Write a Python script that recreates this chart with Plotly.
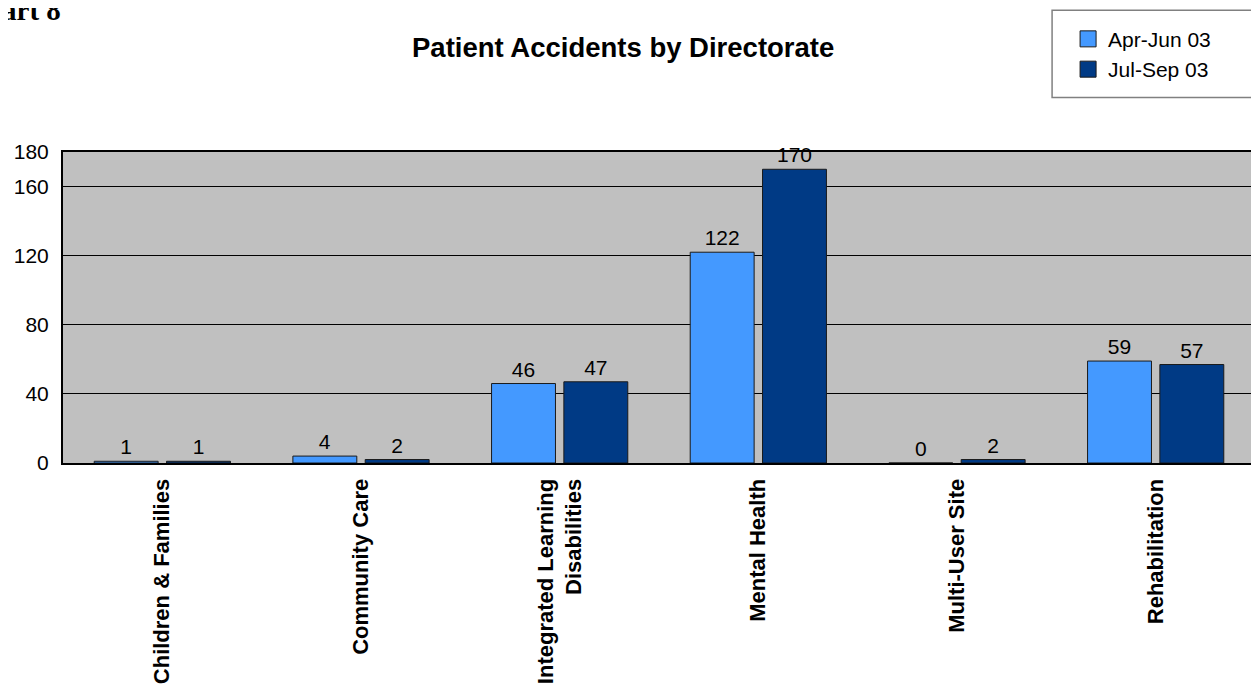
import plotly.graph_objects as go

categories = ["Children & Families", "Community Care", "Integrated Learning<br>Disabilities",
              "Mental Health", "Multi-User Site", "Rehabilitation"]
apr_jun = [1, 4, 46, 122, 0, 59]
jul_sep = [1, 2, 47, 170, 2, 57]
series_names = ["Apr-Jun 03", "Jul-Sep 03"]
series_colors = ["#4499ff", "#003a85"]
tick_vals = [0, 40, 80, 120, 160, 180]

OFF = 8  # default page body margin
W, H = 1259 - OFF, 691 - OFF
# plot area in page pixels
PX0, PX1, PY0, PY1 = 62.5, 1255, 151.5, 463
L = PX0 - OFF
T = PY0 - OFF
pw = PX1 - PX0
ph = PY1 - PY0
R = W - L - pw
B = H - T - ph

def px(x):
    return (x - PX0) / pw

def py(y):
    return (PY1 - y) / ph

fig = go.Figure()
for name, vals, col in zip(series_names, [apr_jun, jul_sep], series_colors):
    fig.add_trace(go.Bar(
        x=categories, y=vals, name=name, showlegend=False,
        marker=dict(color=col, line=dict(color="#1a1a1a", width=1)),
        text=[str(v) for v in vals], textposition="outside",
        textfont=dict(family="Arial, Liberation Sans", size=21, color="black"),
        cliponaxis=False,
    ))
    # legend entry with a larger square swatch
    fig.add_trace(go.Scatter(
        x=[None], y=[None], mode="markers", name=name,
        marker=dict(symbol="square", size=16, color=col, line=dict(color="#1a1a1a", width=1)),
        showlegend=True,
    ))

fig.update_layout(
    width=W, height=H,
    margin=dict(l=L, r=R, t=T, b=B, autoexpand=False),
    paper_bgcolor="white", plot_bgcolor="#c0c0c0",
    barmode="group", bargap=0.272, bargroupgap=0.116,
    font=dict(family="Arial, Liberation Sans", color="black"),
    showlegend=True,
    legend=dict(x=px(1068), y=py(18), xanchor="left", yanchor="top",
                xref="paper", yref="paper", itemsizing="trace",
                bgcolor="rgba(0,0,0,0)", borderwidth=0,
                font=dict(size=21, family="Arial, Liberation Sans"),
                tracegroupgap=0, itemwidth=30),
    xaxis=dict(range=[-0.5, 5.5], tickangle=-90, showline=True, linecolor="black",
               linewidth=2, mirror=True, ticks="", ticklabelstandoff=5,
               tickfont=dict(size=22, family="Arial, Liberation Sans", weight="bold")),
    yaxis=dict(range=[0, 180], tickvals=tick_vals, showgrid=True, gridcolor="black",
               gridwidth=1, showline=True, linecolor="black", linewidth=2, mirror=True,
               ticks="", ticklabelstandoff=8, zeroline=False,
               tickfont=dict(size=21, family="Arial, Liberation Sans")),
    shapes=[dict(type="rect", xref="paper", yref="paper",
                 x0=px(1052), x1=px(1253), y0=py(97), y1=py(9.5),
                 line=dict(color="#808080", width=1.5), fillcolor="rgba(0,0,0,0)")],
    annotations=[
        dict(text="<b>Patient Accidents by Directorate</b>", xref="paper", yref="paper",
             x=px(623), y=py(47), xanchor="center", yanchor="middle", showarrow=False,
             font=dict(size=27.5, family="Arial, Liberation Sans", color="black")),
        dict(text="<b>Chart 8</b>", xref="paper", yref="paper",
             x=px(-38), y=py(27), xanchor="left", yanchor="bottom", showarrow=False,
             font=dict(size=29, family="Liberation Serif, Times New Roman", color="black")),
    ],
)

fig.write_html("out.html")
